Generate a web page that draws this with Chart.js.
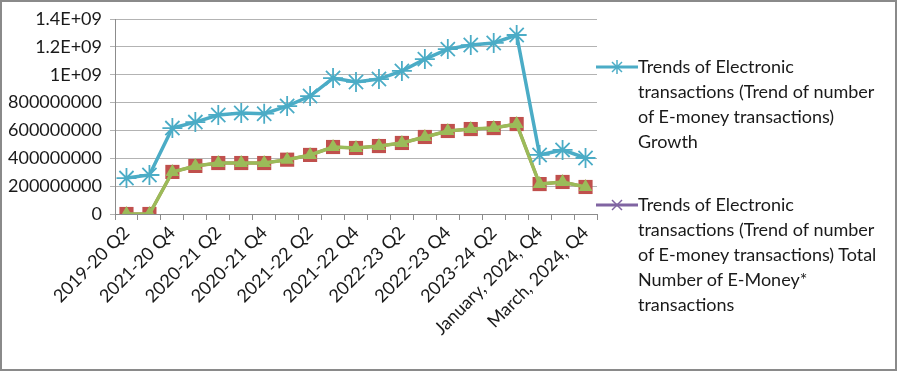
<!DOCTYPE html>
<html>
<head>
<meta charset="utf-8">
<script src="https://cdn.jsdelivr.net/npm/chart.js@4.4.0/dist/chart.umd.min.js"></script>
<style>
  html, body { margin: 0; padding: 0; background: #fff; }
  #wrap { position: relative; width: 897px; height: 371px; overflow: hidden; }
  #chart { position: absolute; left: 0; top: 0; }
  #frame { position: absolute; left: 0; top: 0; width: 893px; height: 367px; border: 2px solid #8a8a8a; pointer-events: none; }
  .legend-item { position: absolute; font-family: Lato, sans-serif; font-size: 18px; line-height: 25px; color: #1a1a1a; white-space: nowrap; }
  .legend-mark { position: absolute; }
</style>
</head>
<body>
<div id="wrap">
  <canvas id="chart" width="897" height="371"></canvas>
  <svg class="legend-mark" style="left:595px;top:57px" width="44" height="20">
    <line x1="1" y1="10" x2="43" y2="10" stroke="#4BACC6" stroke-width="3"/>
    <g stroke="#4BACC6" stroke-width="1.5">
      <line x1="15" y1="10" x2="29" y2="10"/><line x1="22" y1="3" x2="22" y2="17"/>
      <line x1="17" y1="5" x2="27" y2="15"/><line x1="27" y1="5" x2="17" y2="15"/>
    </g>
  </svg>
  <div class="legend-item" style="left:638px;top:54px">Trends of Electronic<br>transactions (Trend of number<br>of E-money transactions)<br>Growth</div>
  <svg class="legend-mark" style="left:595px;top:195px" width="44" height="20">
    <line x1="1" y1="10" x2="43" y2="10" stroke="#8064A2" stroke-width="3"/>
    <g stroke="#8064A2" stroke-width="1.5">
      <line x1="17" y1="5" x2="27" y2="15"/><line x1="27" y1="5" x2="17" y2="15"/>
    </g>
  </svg>
  <div class="legend-item" style="left:638px;top:192px">Trends of Electronic<br>transactions (Trend of number<br>of E-money transactions) Total<br>Number of E-Money*<br>transactions</div>
  <div id="frame"></div>
</div>
<script>
// Categories (only every other one is labelled on the axis)
const categories = [
  "2019-20 Q2", "2019-20 Q3", "2021-20 Q4", "2020-21 Q1", "2020-21 Q2",
  "2020-21 Q3", "2020-21 Q4", "2021-22 Q1", "2021-22 Q2", "2021-22 Q3",
  "2021-22 Q4", "2022-23 Q1", "2022-23 Q2", "2022-23 Q3", "2022-23 Q4",
  "2023-24 Q1", "2023-24 Q2", "2023-24 Q3", "January, 2024, Q4",
  "February, 2024, Q4", "March, 2024, Q4"
];

// Series values
const growthValues = [
  258e6, 280e6, 617e6, 660e6, 711e6, 725e6, 720e6, 775e6, 847e6, 976e6,
  948e6, 969e6, 1027e6, 1112e6, 1184e6, 1213e6, 1228e6, 1285e6, 424e6,
  460e6, 402e6
];
const squareValues = [
  0, 0, 302e6, 345e6, 366e6, 366e6, 366e6, 390e6, 424e6, 481e6,
  474e6, 488e6, 510e6, 553e6, 596e6, 610e6, 617e6, 646e6, 215e6,
  230e6, 194e6
];
const triangleValues = [
  0, 0, 302e6, 345e6, 366e6, 366e6, 366e6, 390e6, 424e6, 481e6,
  474e6, 488e6, 510e6, 553e6, 596e6, 610e6, 617e6, 646e6, 215e6,
  230e6, 194e6
];

// Y axis tick labels, bottom to top
const yTickLabels = [
  "0", "200000000", "400000000", "600000000", "800000000",
  "1E+09", "1.2E+09", "1.4E+09"
];

const tickFont = { family: 'Lato, sans-serif', size: 18 };
const tickColor = '#1a1a1a';

const ctx = document.getElementById('chart');
new Chart(ctx, {
  type: 'line',
  data: {
    labels: categories,
    datasets: [
      {
        label: 'Growth',
        data: growthValues,
        borderColor: '#4BACC6',
        borderWidth: 3.5,
        pointStyle: 'star',
        pointRadius: 10,
        pointBorderWidth: 1.8,
        pointBorderColor: '#4BACC6',
        pointBackgroundColor: '#4BACC6'
      },
      {
        label: 'Triangles',
        data: triangleValues,
        borderColor: '#9BBB59',
        borderWidth: 3.5,
        pointStyle: 'triangle',
        pointRadius: 8,
        pointBorderWidth: 0,
        pointBackgroundColor: '#9BBB59'
      },
      {
        label: 'Squares',
        data: squareValues,
        borderColor: '#C0504D',
        borderWidth: 3,
        pointStyle: 'rect',
        pointRadius: 10,
        pointBorderWidth: 0,
        pointBackgroundColor: '#C0504D'
      }
    ]
  },
  options: {
    responsive: false,
    animation: false,
    layout: { padding: { left: 0, right: 300, top: 19, bottom: 0 } },
    elements: { line: { tension: 0 } },
    plugins: {
      legend: { display: false },
      tooltip: { enabled: false }
    },
    scales: {
      x: {
        offset: true,
        grid: { offset: true, drawOnChartArea: false, tickLength: 6, color: '#8c8c8c' },
        border: { color: '#8c8c8c' },
        ticks: {
          autoSkip: false,
          maxRotation: 45,
          minRotation: 45,
          padding: 2,
          font: tickFont,
          color: tickColor,
          callback: (v, i) => (i % 2 === 0 ? categories[i] : '')
        },
        afterFit: (scale) => { scale.height = 157; }
      },
      y: {
        min: 0,
        max: 1.4e9,
        ticks: {
          stepSize: 2e8,
          padding: 8,
          font: tickFont,
          color: tickColor,
          callback: (v, i) => yTickLabels[i]
        },
        grid: { color: '#b3b3b3', tickLength: 5 },
        border: { color: '#8c8c8c' },
        afterFit: (scale) => { scale.width = 115; }
      }
    }
  }
});
</script>
</body>
</html>
